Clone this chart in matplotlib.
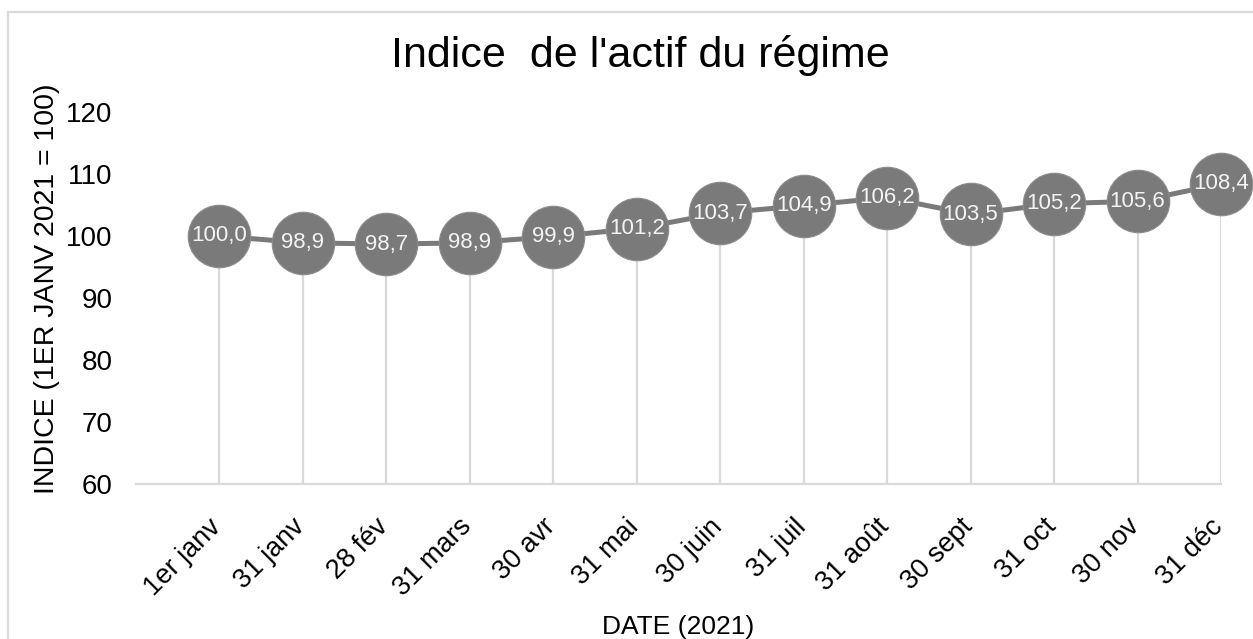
import matplotlib
matplotlib.use("Agg")
import matplotlib.pyplot as plt
from matplotlib.patches import Rectangle
from matplotlib.transforms import ScaledTranslation

plt.rcParams["font.family"] = ["Liberation Sans", "DejaVu Sans"]

dates = ["1er janv", "31 janv", "28 fév", "31 mars", "30 avr", "31 mai", "30 juin",
         "31 juil", "31 août", "30 sept", "31 oct", "30 nov", "31 déc"]
index_values = [100.0, 98.9, 98.7, 98.9, 99.9, 101.2, 103.7, 104.9, 106.2, 103.5, 105.2, 105.6, 108.4]
y_ticks = [60, 70, 80, 90, 100, 110, 120]

W, H = 1253, 639
fig = plt.figure(figsize=(W / 100, H / 100), dpi=100)
ax = fig.add_axes([136 / W, 1 - 484 / H, (1221 - 136) / W, (484 - 112) / H])

grey = "#7a7a7a"
light = "#d9d9d9"
x = list(range(len(dates)))

# drop lines from each point to the axis
ax.vlines(x, y_ticks[0], index_values, color=light, lw=1.6, zorder=1)
ax.plot(x, index_values, color=grey, lw=3.6, marker="o", markersize=45,
        markerfacecolor=grey, markeredgecolor="#8c8c8c", markeredgewidth=0.8,
        clip_on=False, zorder=3)
for xi, v in zip(x, index_values):
    ax.text(xi, v, f"{v:.1f}".replace(".", ","), color="#f4f4f4", fontsize=16,
            ha="center", va="center", zorder=4, clip_on=False)

ax.set_xlim(-1, len(dates) - 1)
ax.set_ylim(y_ticks[0], y_ticks[-1])
ax.set_yticks(y_ticks)
ax.set_xticks(x)
ax.set_xticklabels(dates, rotation=45, ha="right", rotation_mode="anchor", fontsize=19.5)
ax.tick_params(axis="x", length=0, pad=20)
ax.tick_params(axis="y", length=0, pad=17, labelsize=20)
# nudge rotated labels left so their ends sit at the drop lines
shift = ScaledTranslation(-0.11, -0.02, fig.dpi_scale_trans)
for lbl in ax.get_xticklabels():
    lbl.set_transform(lbl.get_transform() + shift)

for side in ("top", "right", "left"):
    ax.spines[side].set_visible(False)
ax.spines["bottom"].set_color(light)
ax.spines["bottom"].set_linewidth(1.6)

ax.set_ylabel("INDICE (1ER JANV 2021 = 100)", fontsize=20.5)
ax.yaxis.set_label_coords((60 - 136) / (1221 - 136), (484 - 289) / (484 - 112))
ax.set_xlabel("DATE (2021)", fontsize=19)
ax.xaxis.set_label_coords(0.5, -(615 - 484) / (484 - 112))

fig.text(640 / W, 1 - 67 / H, "Indice  de l'actif du régime", fontsize=31,
         ha="center", va="baseline")

# chart border (runs off the right and bottom edges)
fig.patches.append(Rectangle((8 / W, -0.1), 1.2, 1 - 12 / H + 0.1, transform=fig.transFigure,
                             fill=False, edgecolor=light, lw=1.6))

fig.savefig("out.png", dpi=100)
